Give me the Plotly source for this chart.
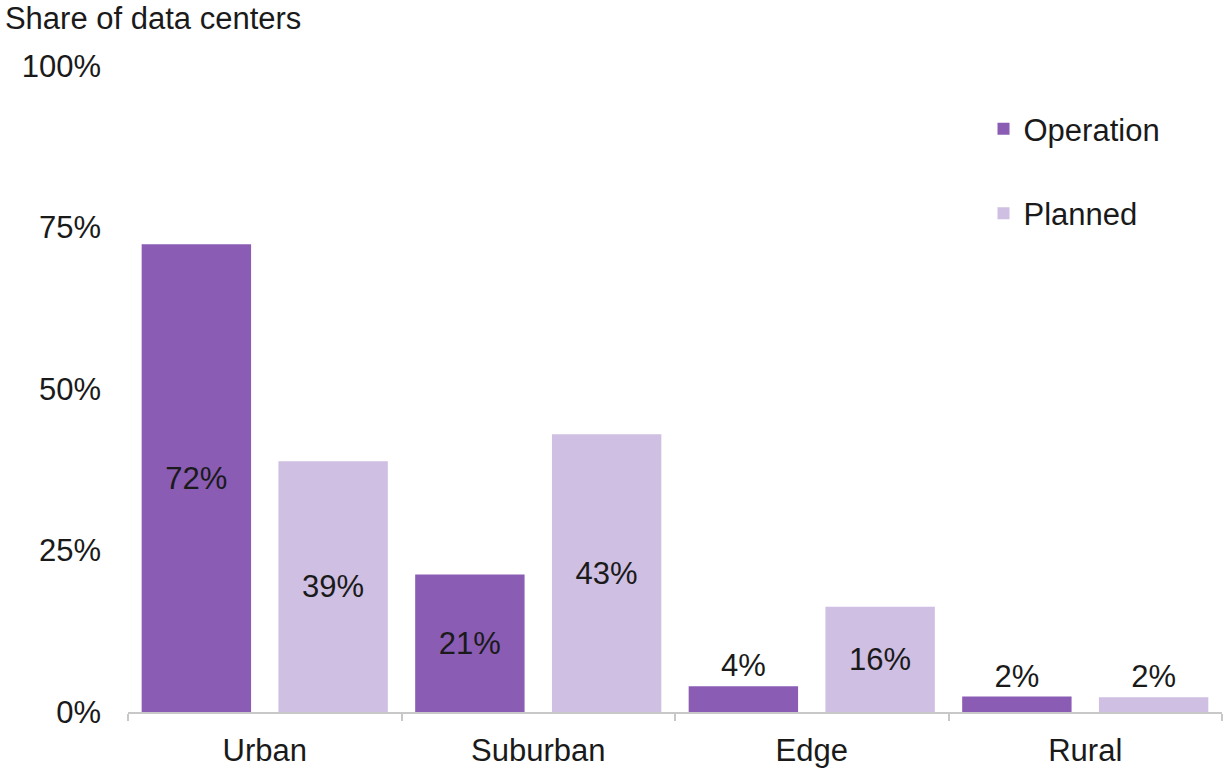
import plotly.graph_objects as go

categories = ["Urban", "Suburban", "Edge", "Rural"]
operation = [72.4, 21.3, 4.0, 2.4]
planned = [38.8, 43.0, 16.3, 2.3]
operation_labels = ["72%", "21%", "4%", "2%"]
planned_labels = ["39%", "43%", "16%", "2%"]
y_ticks = [0, 25, 50, 75, 100]
y_tick_labels = ["0%", "25%", "50%", "75%", "100%"]

FONT = "Liberation Sans, Arial, sans-serif"
FS = 31

def positions(vals):
    return ["inside" if v >= 10 else "outside" for v in vals]

fig = go.Figure()
fig.add_trace(go.Bar(
    name="Operation", x=categories, y=operation, text=operation_labels,
    textposition=positions(operation), insidetextanchor="middle",
    constraintext="none", cliponaxis=False,
    textfont=dict(family=FONT, size=FS, color="#1a1a1a"),
    marker=dict(color="#8A5CB4", line=dict(width=0)),
    legendgroup="op",
))
fig.add_trace(go.Bar(
    name="Planned", x=categories, y=planned, text=planned_labels,
    textposition=positions(planned), insidetextanchor="middle",
    constraintext="none", cliponaxis=False,
    textfont=dict(family=FONT, size=FS, color="#1a1a1a"),
    marker=dict(color="#CFBFE2", line=dict(width=0)),
    legendgroup="pl",
))

fig.update_layout(
    width=1228, height=770,
    paper_bgcolor="white", plot_bgcolor="white",
    font=dict(family=FONT, size=FS, color="#1a1a1a"),
    margin=dict(l=128, r=6, t=66, b=58),
    barmode="group", bargap=0.0, bargroupgap=0.2,
    showlegend=True,
    legend=dict(x=0.782, y=0.944, xanchor="left", yanchor="top",
                font=dict(family=FONT, size=FS, color="#1a1a1a"),
                tracegroupgap=41, bgcolor="rgba(0,0,0,0)"),
    title=dict(text="Share of data centers", x=0.004, xref="container", xanchor="left",
               y=1 - 18 / 770, yref="container", yanchor="middle",
               font=dict(family=FONT, size=FS, color="#1a1a1a")),
    xaxis=dict(showline=True, linecolor="#C8C8C8", linewidth=1.5,
               ticks="outside", tickson="boundaries", ticklen=7, tickcolor="#C8C8C8",
               tickwidth=1.5, showgrid=False, ticklabelstandoff=10, automargin=False,
               tickfont=dict(family=FONT, size=FS, color="#1a1a1a")),
    yaxis=dict(range=[0, 100], tickvals=y_ticks, ticktext=y_tick_labels,
               showgrid=False, zeroline=False, showline=False, ticks="",
               ticklabelstandoff=26, automargin=False,
               tickfont=dict(family=FONT, size=FS, color="#1a1a1a")),
)

fig.write_html("out.html", config={"displayModeBar": False},
               post_script="document.body.style.margin='0';")
